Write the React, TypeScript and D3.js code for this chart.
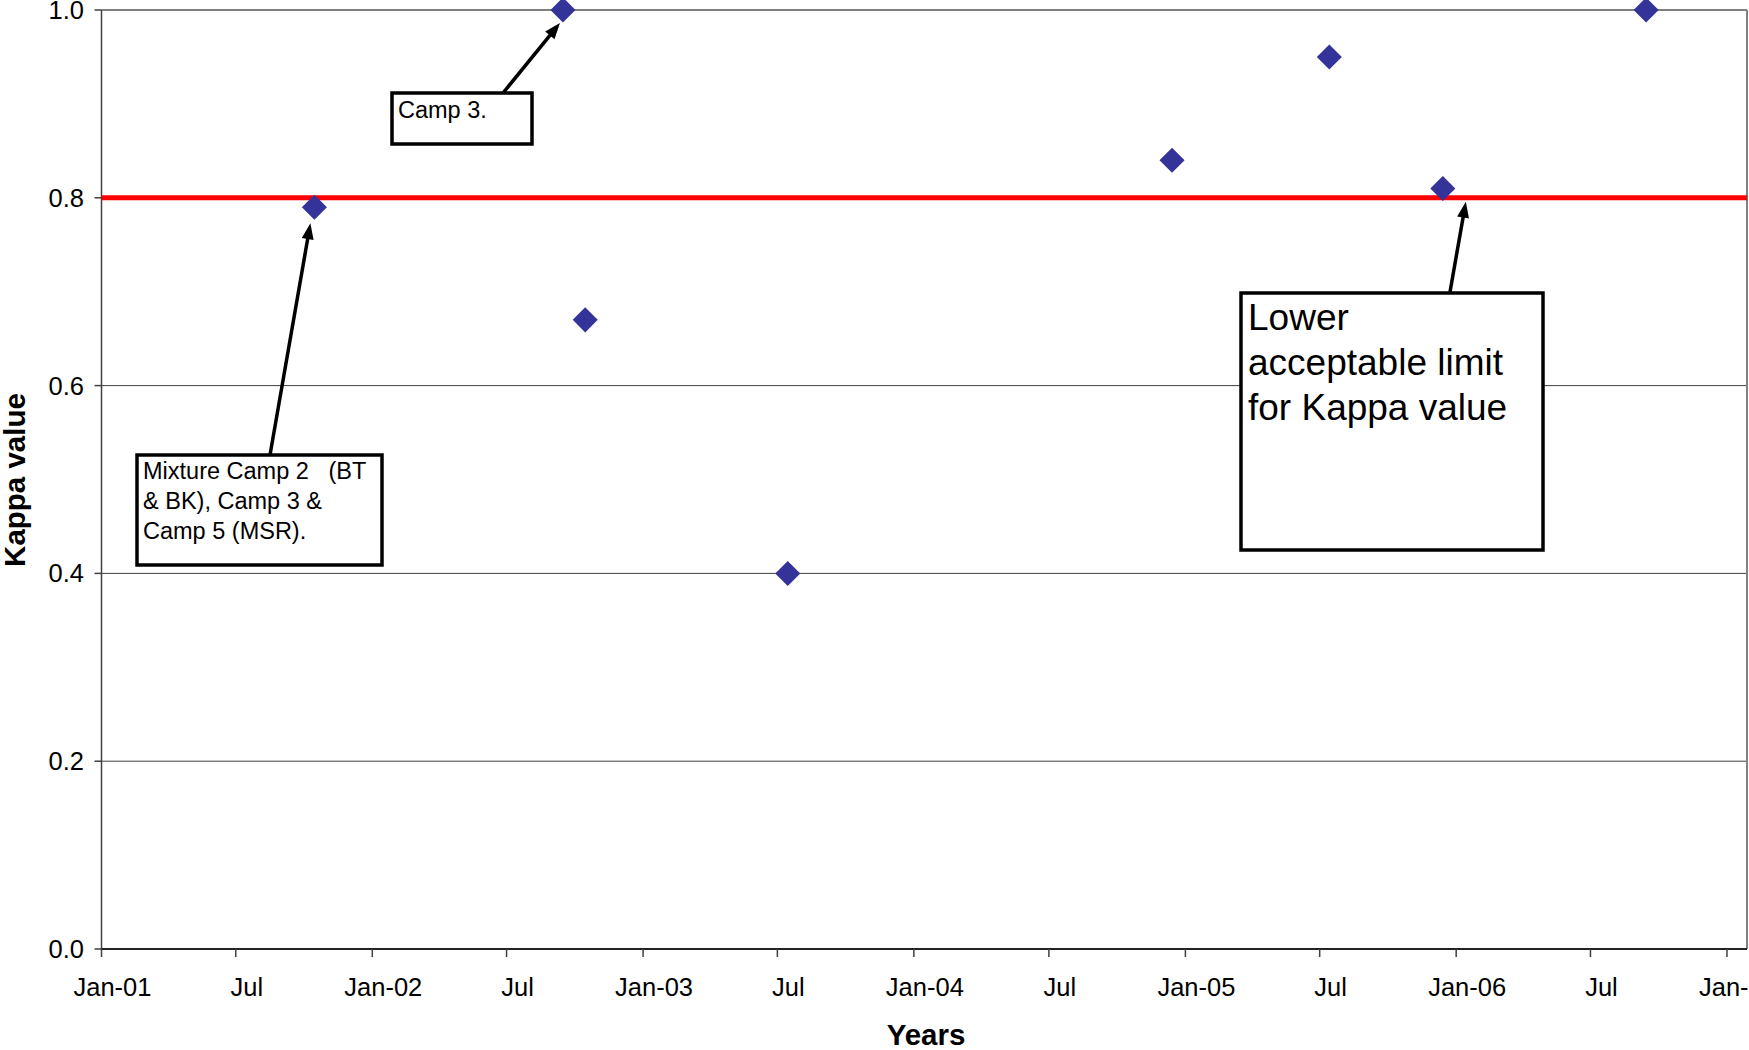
import React from "react";
import * as d3 from "d3";

const dates: string[] = ["2001-10-15", "2002-09-15", "2002-10-15", "2003-07-15", "2004-12-14", "2005-07-14", "2005-12-14", "2006-09-14"];
const kappa: number[] = [0.79, 1.0, 0.67, 0.4, 0.84, 0.95, 0.81, 1.0];
const yTicks: number[] = [0, 0.2, 0.4, 0.6, 0.8, 1.0];
const xTickDates: string[] = ["2001-01-01", "2001-07-01", "2002-01-01", "2002-07-01", "2003-01-01", "2003-07-01", "2004-01-01", "2004-07-01", "2005-01-01", "2005-07-01", "2006-01-01", "2006-07-01", "2007-01-01"];
const xTickLabels: string[] = ["Jan-01", "Jul", "Jan-02", "Jul", "Jan-03", "Jul", "Jan-04", "Jul", "Jan-05", "Jul", "Jan-06", "Jul", "Jan-07"];
const limitValue = 0.8;

const parse = (s: string) => { const [y, m, d] = s.split("-").map(Number); return new Date(y, m - 1, d); };

const FONT = "'Liberation Sans', Arial, sans-serif";

export default function App() {
  const W = 1749, H = 1050;
  const left = 101.5, right = 1747, top = 10, bottom = 949;
  const x = d3.scaleTime().domain([new Date(2001, 0, 1), new Date(2007, 0, 28)]).range([left, right]);
  const y = d3.scaleLinear().domain([0, 1]).range([bottom, top]);
  const diamond = d3.symbol().type(d3.symbolDiamond2 ?? d3.symbolSquare).size(400);
  const mk = (i: number) => [x(parse(dates[i])), y(kappa[i])];

  const p0 = mk(0), p1 = mk(1);
  const arrows = [
    { from: [270, 455], to: [p0[0] - 4, p0[1] + 16] },
    { from: [503, 93], to: [p1[0] - 3, p1[1] + 13] },
    { from: [1450, 292], to: [x(parse(dates[6])) + 23, y(limitValue) + 4] },
  ];

  const arrowHead = (from: number[], to: number[]) => {
    const ang = Math.atan2(to[1] - from[1], to[0] - from[0]);
    const len = 16, w = 6;
    const bx = to[0] - len * Math.cos(ang), by = to[1] - len * Math.sin(ang);
    const px = -Math.sin(ang) * w, py = Math.cos(ang) * w;
    return `M${to[0]},${to[1]}L${bx + px},${by + py}L${bx - px},${by - py}Z`;
  };
  const lineEnd = (from: number[], to: number[]) => {
    const ang = Math.atan2(to[1] - from[1], to[0] - from[0]);
    return [to[0] - 12 * Math.cos(ang), to[1] - 12 * Math.sin(ang)];
  };

  return (
    <svg width={W} height={H} style={{ position: "absolute", left: 0, top: 0, background: "#fff" }} fontFamily={FONT}>
      {/* gridlines */}
      {yTicks.filter(t => t > 0).map(t => (
        <line key={t} x1={left} x2={right} y1={y(t)} y2={y(t)} stroke={t === 1 ? "#808080" : "#404040"} strokeWidth={t === 1 ? 2 : 1} />
      ))}
      <line x1={right} x2={right} y1={top} y2={bottom} stroke="#808080" strokeWidth={2} />
      {/* axes */}
      <line x1={left} x2={left} y1={top} y2={bottom} stroke="#404040" strokeWidth={1.5} />
      <line x1={left} x2={right} y1={bottom} y2={bottom} stroke="#222" strokeWidth={2} />
      {yTicks.map(t => (
        <g key={t}>
          <line x1={left - 7} x2={left} y1={y(t)} y2={y(t)} stroke="#404040" strokeWidth={1.5} />
          <text x={84} y={y(t)} dy="0.35em" textAnchor="end" fontSize={25.5}>{t.toFixed(1)}</text>
        </g>
      ))}
      {xTickDates.map((d, i) => (
        <g key={d}>
          <line x1={x(parse(d))} x2={x(parse(d))} y1={bottom} y2={bottom + 8} stroke="#404040" strokeWidth={1.5} />
          <text x={x(parse(d)) + 11} y={996} textAnchor="middle" fontSize={25.5}>{xTickLabels[i]}</text>
        </g>
      ))}
      <text x={926} y={1045} textAnchor="middle" fontSize={29.5} fontWeight="bold">Years</text>
      <text transform={`translate(25,${480}) rotate(-90)`} textAnchor="middle" fontSize={29.5} fontWeight="bold">Kappa value</text>
      {/* limit line */}
      <line x1={left} x2={right} y1={y(limitValue)} y2={y(limitValue)} stroke="#ff0000" strokeWidth={5} />
      {/* points */}
      {dates.map((d, i) => (
        <path key={i} transform={`translate(${x(parse(d))},${y(kappa[i])})`} d={diamond() as string} fill="#333399" />
      ))}
      {/* annotations */}
      {arrows.map((a, i) => {
        const e = lineEnd(a.from, a.to);
        return (
          <g key={i}>
            <line x1={a.from[0]} y1={a.from[1]} x2={e[0]} y2={e[1]} stroke="#000" strokeWidth={3.5} />
            <path d={arrowHead(a.from, a.to)} fill="#000" />
          </g>
        );
      })}
      <rect x={392} y={93} width={140} height={51} fill="#fff" stroke="#000" strokeWidth={3.5} />
      <text x={398} y={118} fontSize={23.5}>Camp 3.</text>
      <rect x={137} y={455} width={245} height={110} fill="#fff" stroke="#000" strokeWidth={3.5} />
      <text fontSize={23.5} style={{ whiteSpace: "pre" }} xmlSpace="preserve">
        <tspan x={143} y={479}>{"Mixture Camp 2   (BT"}</tspan>
        <tspan x={143} y={509}>{"& BK), Camp 3 &"}</tspan>
        <tspan x={143} y={539}>{"Camp 5 (MSR)."}</tspan>
      </text>
      <rect x={1241} y={293} width={302} height={257} fill="#fff" stroke="#000" strokeWidth={3.5} />
      <text fontSize={37}>
        <tspan x={1248} y={330}>Lower</tspan>
        <tspan x={1248} y={375}>acceptable limit</tspan>
        <tspan x={1248} y={420}>for Kappa value</tspan>
      </text>
    </svg>
  );
}
